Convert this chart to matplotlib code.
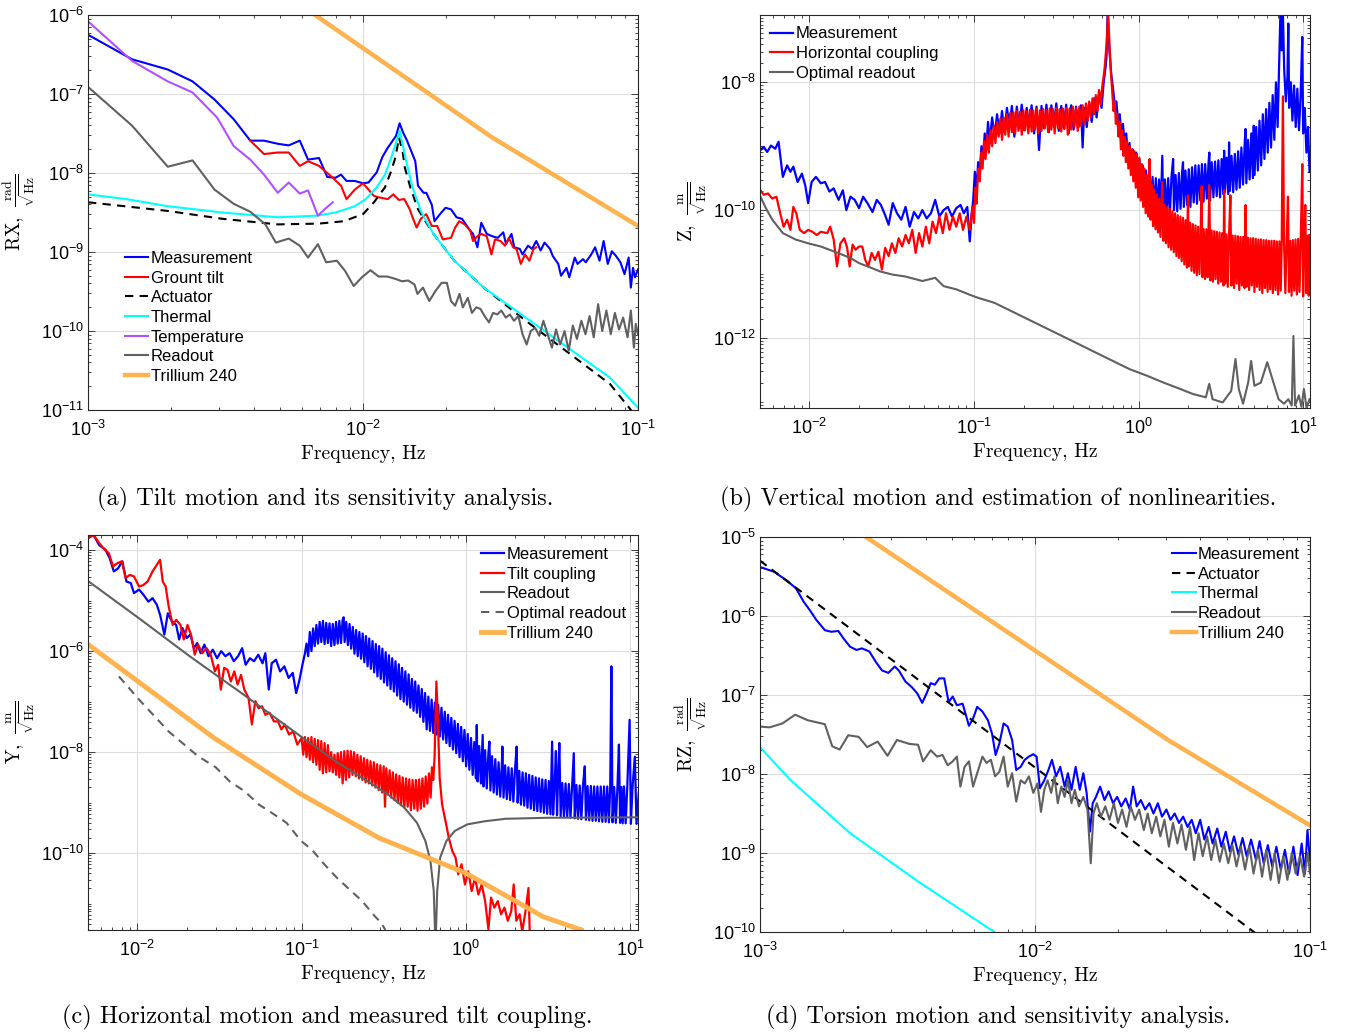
import numpy as np
import matplotlib
matplotlib.use('Agg')
import matplotlib.pyplot as plt
from matplotlib.ticker import LogLocator, FuncFormatter, NullFormatter

plt.rcParams['font.family'] = 'Liberation Sans'
plt.rcParams['mathtext.fontset'] = 'custom'
plt.rcParams['mathtext.rm'] = 'cmr10'
plt.rcParams['mathtext.sf'] = 'Liberation Sans'

BLUE = '#0000ff'
RED = '#ff0000'
GRAY = '#606060'
CYAN = '#00ffff'
PURPLE = '#b050ff'
ORANGE = '#ffb24d'

# all points are (log10 frequency [Hz], log10 amplitude)

# (a) tilt RX
rx_meas = [(-3.00, -6.25), (-2.84, -6.56), (-2.71, -6.69), (-2.62, -6.84), (-2.54, -7.07), (-2.47, -7.32),
           (-2.41, -7.59), (-2.36, -7.59), (-2.31, -7.63), (-2.27, -7.65), (-2.23, -7.59), (-2.20, -7.83),
           (-2.16, -7.81), (-2.13, -8.05), (-2.10, -8.06), (-2.08, -8.02), (-2.06, -8.10), (-2.03, -8.10),
           (-2.00, -8.13), (-1.98, -8.12), (-1.95, -7.99), (-1.93, -7.80), (-1.91, -7.68), (-1.88, -7.53),
           (-1.867, -7.37), (-1.854, -7.49), (-1.84, -7.59), (-1.81, -7.85), (-1.80, -8.16), (-1.78, -8.25),
           (-1.77, -8.25), (-1.75, -8.40), (-1.74, -8.61), (-1.72, -8.52), (-1.70, -8.44), (-1.68, -8.46),
           (-1.66, -8.56), (-1.64, -8.58), (-1.61, -8.73), (-1.60, -8.77), (-1.584, -8.94), (-1.57, -8.63),
           (-1.55, -8.77), (-1.53, -8.80), (-1.51, -8.82), (-1.49, -8.75), (-1.48, -8.90), (-1.46, -8.77),
           (-1.45, -8.94), (-1.43, -8.96), (-1.42, -9.03), (-1.40, -8.92), (-1.385, -8.96), (-1.37, -8.86),
           (-1.354, -8.98), (-1.34, -8.88), (-1.32, -8.96), (-1.31, -9.05), (-1.29, -9.15), (-1.28, -9.30),
           (-1.26, -9.20), (-1.25, -9.32), (-1.23, -9.07), (-1.22, -9.15), (-1.20, -9.09), (-1.19, -9.13),
           (-1.17, -9.03), (-1.156, -8.94), (-1.14, -9.11), (-1.125, -8.86), (-1.11, -9.15), (-1.095, -8.99),
           (-1.08, -9.05), (-1.064, -9.13), (-1.049, -9.28), (-1.034, -9.07), (-1.026, -9.45), (-1.018, -9.20),
           (-1.011, -9.32), (-1.00, -9.22)]
rx_ground = [(-2.41, -7.59), (-2.36, -7.76), (-2.31, -7.74), (-2.27, -7.74), (-2.23, -7.91), (-2.20, -7.85),
             (-2.16, -7.91), (-2.11, -8.06), (-2.08, -8.16), (-2.06, -8.33), (-2.03, -8.21), (-2.00, -8.13),
             (-1.98, -8.21), (-1.96, -8.29), (-1.94, -8.31), (-1.91, -8.33), (-1.89, -8.27), (-1.87, -8.34),
             (-1.85, -8.33), (-1.83, -8.46), (-1.82, -8.56), (-1.805, -8.69), (-1.79, -8.58), (-1.77, -8.52),
             (-1.75, -8.67), (-1.73, -8.67), (-1.71, -8.84), (-1.68, -8.82), (-1.665, -8.69), (-1.65, -8.61),
             (-1.63, -8.65), (-1.61, -8.73), (-1.60, -8.86), (-1.584, -8.80), (-1.57, -8.77), (-1.55, -8.80),
             (-1.533, -9.03), (-1.52, -8.84), (-1.50, -8.86), (-1.484, -8.92), (-1.47, -8.82), (-1.454, -8.94),
             (-1.442, -8.96), (-1.426, -9.15), (-1.411, -9.03), (-1.395, -9.11), (-1.38, -8.96), (-1.37, -8.94)]
rx_act = [(-3.0, -8.37), (-2.71, -8.48), (-2.51, -8.58), (-2.31, -8.65), (-2.16, -8.64), (-2.07, -8.61),
          (-2.00, -8.52), (-1.96, -8.37), (-1.92, -8.18), (-1.897, -7.97), (-1.882, -7.80), (-1.869, -7.55),
          (-1.855, -7.75), (-1.848, -7.93), (-1.828, -8.18), (-1.80, -8.46), (-1.744, -8.77), (-1.668, -9.11),
          (-1.561, -9.45), (-1.408, -9.87), (-1.255, -10.27), (-1.102, -10.67), (-1.03, -10.98), (-1.00, -11.12)]
rx_therm = [(-3.0, -8.27), (-2.86, -8.33), (-2.71, -8.42), (-2.51, -8.50), (-2.31, -8.56), (-2.17, -8.54),
            (-2.10, -8.50), (-2.03, -8.42), (-1.99, -8.33), (-1.95, -8.18), (-1.92, -8.02), (-1.897, -7.80),
            (-1.882, -7.64), (-1.869, -7.49), (-1.866, -7.47), (-1.856, -7.64), (-1.843, -7.85), (-1.82, -8.18),
            (-1.79, -8.48), (-1.744, -8.77), (-1.668, -9.11), (-1.561, -9.45), (-1.408, -9.83), (-1.255, -10.21),
            (-1.102, -10.59), (-1.00, -10.97)]
rx_temp = [(-3.0, -6.08), (-2.84, -6.58), (-2.71, -6.84), (-2.62, -6.98), (-2.53, -7.30), (-2.47, -7.66),
           (-2.41, -7.83), (-2.36, -8.02), (-2.31, -8.25), (-2.27, -8.12), (-2.23, -8.26), (-2.20, -8.22),
           (-2.164, -8.54), (-2.14, -8.46), (-2.11, -8.37)]
rx_read = [(-3.0, -6.91), (-2.84, -7.40), (-2.71, -7.92), (-2.62, -7.84), (-2.54, -8.21), (-2.47, -8.39),
           (-2.41, -8.49), (-2.355, -8.65), (-2.317, -8.88), (-2.27, -8.83), (-2.23, -8.92), (-2.20, -9.07),
           (-2.164, -8.90), (-2.134, -9.13), (-2.095, -9.11), (-2.065, -9.24), (-2.034, -9.43), (-2.004, -9.32),
           (-1.973, -9.23), (-1.943, -9.31), (-1.912, -9.31), (-1.882, -9.34), (-1.859, -9.37), (-1.836, -9.36),
           (-1.813, -9.41), (-1.802, -9.53), (-1.782, -9.45), (-1.759, -9.62), (-1.736, -9.49), (-1.714, -9.39),
           (-1.695, -9.39), (-1.680, -9.62), (-1.665, -9.68), (-1.649, -9.53), (-1.637, -9.70), (-1.619, -9.58),
           (-1.604, -9.77), (-1.588, -9.70), (-1.573, -9.72), (-1.558, -9.81), (-1.542, -9.89), (-1.527, -9.77),
           (-1.512, -9.79), (-1.497, -9.74), (-1.481, -9.83), (-1.466, -9.79), (-1.451, -9.87), (-1.435, -9.81),
           (-1.420, -10.04), (-1.405, -10.17), (-1.390, -10.00), (-1.374, -9.96), (-1.359, -10.06), (-1.344, -9.87),
           (-1.329, -10.04), (-1.313, -10.21), (-1.298, -9.98), (-1.283, -10.17), (-1.267, -10.00), (-1.252, -10.25),
           (-1.237, -9.93), (-1.222, -10.10), (-1.206, -9.87), (-1.191, -10.04), (-1.176, -9.81), (-1.161, -10.08),
           (-1.145, -9.66), (-1.130, -10.00), (-1.115, -9.74), (-1.099, -10.04), (-1.084, -9.77), (-1.069, -9.98),
           (-1.054, -9.83), (-1.038, -10.08), (-1.026, -9.74), (-1.015, -10.21), (-1.008, -9.91), (-1.000, -10.04)]
rx_trill = [(-2.22, -5.89), (-1.53, -7.55), (-1.00, -8.67)]

# (b) vertical Z
z_meas = [(-2.298, -9.06), (-2.278, -9.01), (-2.257, -9.09), (-2.234, -8.99), (-2.208, -9.04), (-2.188, -8.93),
          (-2.162, -9.48), (-2.136, -9.30), (-2.116, -9.40), (-2.098, -9.32), (-2.072, -9.56), (-2.046, -9.43),
          (-2.026, -9.61), (-2.008, -9.89), (-1.987, -9.56), (-1.961, -9.48), (-1.931, -9.58), (-1.905, -9.56),
          (-1.879, -9.71), (-1.853, -9.66), (-1.823, -9.84), (-1.797, -9.69), (-1.776, -10.00), (-1.751, -9.79),
          (-1.725, -9.84), (-1.699, -9.97), (-1.674, -9.79), (-1.648, -9.89), (-1.617, -10.03), (-1.591, -9.84),
          (-1.566, -9.92), (-1.540, -10.08), (-1.519, -10.23), (-1.494, -9.89), (-1.468, -10.05), (-1.442, -10.15),
          (-1.416, -9.95), (-1.391, -10.26), (-1.365, -10.03), (-1.339, -10.13), (-1.314, -10.00), (-1.288, -10.13),
          (-1.262, -10.05), (-1.236, -9.84), (-1.211, -10.10), (-1.185, -10.00), (-1.159, -9.95), (-1.134, -10.10),
          (-1.108, -9.97), (-1.082, -9.92), (-1.062, -10.05), (-1.041, -9.95), (-1.026, -10.49), (-1.015, -10.10),
          (-1.005, -9.84), (-0.995, -9.40), (-0.985, -9.70), (-0.975, -9.25), (-0.965, -9.45), (-0.955, -9.00),
          (-0.945, -9.20), (-0.935, -8.80), (-0.925, -9.05), (-0.915, -8.62), (-0.905, -8.95), (-0.890, -8.55),
          (-0.875, -8.85), (-0.860, -8.50), (-0.845, -8.80), (-0.830, -8.45), (-0.815, -8.78), (-0.800, -8.40),
          (-0.785, -8.70), (-0.770, -8.37), (-0.755, -8.85), (-0.740, -8.38), (-0.725, -8.72), (-0.710, -8.35),
          (-0.695, -8.75), (-0.680, -8.40), (-0.665, -8.70), (-0.650, -8.36), (-0.635, -8.80), (-0.620, -8.38),
          (-0.605, -9.06), (-0.590, -8.37), (-0.575, -8.72), (-0.560, -8.35), (-0.545, -8.78), (-0.530, -8.36),
          (-0.515, -8.70), (-0.500, -8.33), (-0.485, -8.76), (-0.470, -8.37), (-0.455, -8.72), (-0.440, -8.35),
          (-0.425, -8.80), (-0.410, -8.36), (-0.395, -8.74), (-0.380, -8.38), (-0.365, -8.70), (-0.350, -8.36),
          (-0.340, -9.02), (-0.330, -8.40), (-0.315, -8.70), (-0.300, -8.32), (-0.285, -8.62), (-0.270, -8.25),
          (-0.255, -8.55), (-0.240, -8.15), (-0.225, -8.40), (-0.212, -8.00), (-0.200, -7.75), (-0.195, -7.61),
          (-0.188, -6.90), (-0.177, -7.51), (-0.165, -7.90), (-0.155, -8.10), (-0.145, -8.35), (-0.135, -8.30),
          (-0.125, -8.60), (-0.115, -8.50), (-0.105, -8.80), (-0.095, -8.65), (-0.085, -8.95), (-0.075, -8.80),
          (-0.065, -9.15), (-0.055, -8.95), (-0.045, -9.30), (-0.035, -9.05), (-0.025, -9.40), (-0.015, -9.10),
          (-0.005, -9.55), (0.005, -9.20), (0.015, -9.70), (0.025, -9.30), (0.035, -9.75), (0.045, -9.38),
          (0.055, -9.85), (0.065, -9.42), (0.075, -9.92), (0.085, -9.48), (0.095, -9.98), (0.105, -9.50),
          (0.115, -10.02), (0.125, -9.52), (0.135, -10.05), (0.144, -9.15), (0.150, -10.08), (0.160, -9.52),
          (0.170, -10.05), (0.180, -9.50), (0.190, -10.08), (0.200, -9.48), (0.210, -9.20), (0.215, -10.00),
          (0.225, -9.45), (0.235, -10.02), (0.245, -9.42), (0.255, -9.98), (0.265, -9.40), (0.270, -9.25),
          (0.275, -9.95), (0.285, -9.38), (0.295, -9.92), (0.305, -9.36), (0.315, -9.95), (0.325, -9.33),
          (0.335, -9.88), (0.345, -9.30), (0.355, -9.90), (0.365, -9.30), (0.375, -9.85), (0.385, -9.28),
          (0.395, -9.87), (0.405, -9.28), (0.415, -9.82), (0.425, -9.27), (0.430, -9.10), (0.435, -9.85),
          (0.445, -9.25), (0.455, -9.80), (0.465, -9.24), (0.475, -9.78), (0.485, -9.22), (0.495, -9.80),
          (0.505, -9.20), (0.515, -9.75), (0.520, -9.07), (0.525, -9.72), (0.535, -9.18), (0.545, -9.75),
          (0.550, -8.94), (0.555, -9.70), (0.565, -9.15), (0.575, -9.72), (0.585, -9.12), (0.595, -9.68),
          (0.605, -9.08), (0.615, -9.65), (0.625, -9.02), (0.635, -9.60), (0.645, -8.95), (0.650, -8.73),
          (0.655, -9.58), (0.665, -8.90), (0.675, -9.52), (0.685, -8.80), (0.695, -9.50), (0.700, -8.68),
          (0.705, -9.45), (0.715, -8.70), (0.725, -9.38), (0.735, -8.60), (0.745, -9.30), (0.755, -8.50),
          (0.765, -9.20), (0.775, -8.42), (0.785, -9.10), (0.795, -8.32), (0.805, -9.02), (0.815, -8.20),
          (0.825, -8.90), (0.835, -8.00), (0.845, -8.70), (0.855, -7.60), (0.862, -6.90), (0.870, -7.50),
          (0.877, -6.90), (0.885, -7.80), (0.895, -8.30), (0.905, -7.90), (0.910, -7.08), (0.915, -8.40),
          (0.925, -8.00), (0.935, -8.60), (0.945, -8.05), (0.955, -8.70), (0.965, -8.10), (0.975, -8.75),
          (0.985, -8.20), (0.995, -7.29), (1.000, -8.80), (1.010, -8.40), (1.020, -9.10), (1.030, -8.70),
          (1.039, -9.40)]
z_horiz = [(-2.298, -9.69), (-2.278, -9.76), (-2.252, -9.74), (-2.226, -9.82), (-2.201, -9.79), (-2.175, -10.08),
           (-2.157, -10.26), (-2.136, -10.15), (-2.116, -10.31), (-2.098, -9.95), (-2.080, -10.05), (-2.059, -10.31),
           (-2.033, -10.36), (-2.008, -10.31), (-1.982, -10.34), (-1.956, -10.39), (-1.931, -10.34), (-1.892, -10.36),
           (-1.874, -10.26), (-1.853, -10.46), (-1.833, -10.88), (-1.812, -10.52), (-1.789, -10.44), (-1.771, -10.59),
           (-1.756, -10.88), (-1.738, -10.54), (-1.720, -10.62), (-1.699, -10.57), (-1.679, -10.57), (-1.661, -10.78),
           (-1.643, -10.88), (-1.622, -10.67), (-1.602, -10.78), (-1.581, -10.65), (-1.560, -10.93), (-1.540, -10.59),
           (-1.519, -10.72), (-1.499, -10.52), (-1.478, -10.67), (-1.458, -10.44), (-1.437, -10.57), (-1.416, -10.39),
           (-1.396, -10.52), (-1.375, -10.31), (-1.355, -10.67), (-1.334, -10.36), (-1.314, -10.57), (-1.293, -10.26),
           (-1.272, -10.52), (-1.252, -10.18), (-1.231, -10.36), (-1.211, -10.10), (-1.190, -10.36), (-1.170, -10.05),
           (-1.149, -10.31), (-1.128, -10.10), (-1.108, -10.26), (-1.087, -10.05), (-1.067, -10.31), (-1.046, -10.10),
           (-1.026, -10.31), (-1.010, -9.95), (-1.000, -10.20), (-0.992, -9.65), (-0.984, -9.90), (-0.975, -9.35),
           (-0.966, -9.55), (-0.957, -9.10), (-0.948, -9.35), (-0.939, -8.92), (-0.930, -9.20), (-0.920, -8.82),
           (-0.910, -9.10), (-0.900, -8.75), (-0.890, -9.00), (-0.880, -8.68), (-0.870, -8.95), (-0.860, -8.62),
           (-0.850, -8.85), (-0.840, -8.57), (-0.830, -8.90), (-0.820, -8.55), (-0.810, -8.82), (-0.800, -8.50),
           (-0.790, -8.85), (-0.780, -8.48), (-0.770, -8.78), (-0.760, -8.47), (-0.750, -8.80), (-0.740, -8.45),
           (-0.730, -8.76), (-0.720, -8.46), (-0.710, -8.82), (-0.700, -8.44), (-0.690, -8.75), (-0.680, -8.45),
           (-0.670, -8.80), (-0.660, -8.43), (-0.650, -8.77), (-0.640, -8.44), (-0.630, -8.74), (-0.620, -8.42),
           (-0.610, -8.80), (-0.600, -8.44), (-0.590, -8.76), (-0.580, -8.42), (-0.570, -8.72), (-0.560, -8.43),
           (-0.550, -8.78), (-0.540, -8.41), (-0.530, -8.74), (-0.520, -8.42), (-0.510, -8.80), (-0.500, -8.40),
           (-0.490, -8.72), (-0.480, -8.42), (-0.470, -8.77), (-0.460, -8.41), (-0.450, -8.73), (-0.440, -8.40),
           (-0.430, -8.82), (-0.420, -8.41), (-0.410, -8.74), (-0.400, -8.38), (-0.390, -8.70), (-0.380, -8.40),
           (-0.370, -8.76), (-0.360, -8.38), (-0.350, -8.68), (-0.340, -8.36), (-0.330, -8.65), (-0.320, -8.33),
           (-0.310, -8.60), (-0.300, -8.30), (-0.290, -8.55), (-0.280, -8.25), (-0.270, -8.50), (-0.260, -8.20),
           (-0.250, -8.45), (-0.240, -8.12), (-0.230, -8.35), (-0.220, -8.05), (-0.212, -7.90), (-0.206, -7.77),
           (-0.193, -7.35), (-0.185, -6.90), (-0.177, -7.40), (-0.168, -7.85), (-0.160, -8.15), (-0.152, -8.45),
           (-0.145, -8.30), (-0.138, -8.65), (-0.130, -8.50), (-0.122, -8.85), (-0.115, -8.62), (-0.107, -9.05),
           (-0.100, -8.75), (-0.092, -9.15), (-0.085, -8.85), (-0.077, -9.25), (-0.070, -8.92), (-0.062, -9.35),
           (-0.055, -9.00), (-0.047, -9.45), (-0.040, -9.05), (-0.032, -9.55), (-0.025, -9.08), (-0.017, -9.65),
           (-0.010, -9.12), (-0.002, -9.80), (0.005, -9.18), (0.013, -9.85), (0.020, -9.28), (0.028, -9.95),
           (0.035, -9.35), (0.043, -10.05), (0.050, -9.45), (0.058, -10.10), (0.065, -9.50), (0.067, -9.20),
           (0.073, -10.15), (0.080, -9.60), (0.088, -10.25), (0.095, -9.68), (0.103, -10.30), (0.110, -9.75),
           (0.118, -10.35), (0.125, -9.82), (0.133, -10.42), (0.140, -9.88), (0.144, -9.56), (0.150, -10.48),
           (0.158, -9.92), (0.166, -10.52), (0.174, -9.95), (0.182, -10.58), (0.190, -9.98), (0.198, -10.62),
           (0.206, -10.02), (0.214, -10.66), (0.222, -10.05), (0.230, -10.72), (0.238, -10.08), (0.246, -10.75),
           (0.254, -10.10), (0.262, -10.80), (0.270, -10.12), (0.278, -10.85), (0.286, -10.16), (0.294, -10.90),
           (0.300, -9.77), (0.306, -10.88), (0.314, -10.20), (0.322, -10.95), (0.330, -10.22), (0.338, -10.98),
           (0.346, -10.24), (0.354, -11.02), (0.362, -10.26), (0.370, -11.00), (0.378, -10.28), (0.383, -9.63),
           (0.388, -11.05), (0.396, -10.30), (0.404, -11.08), (0.412, -10.30), (0.420, -11.05), (0.430, -9.61),
           (0.436, -11.10), (0.444, -10.32), (0.452, -11.12), (0.460, -10.33), (0.468, -11.08), (0.476, -10.34),
           (0.484, -11.15), (0.492, -10.35), (0.500, -11.12), (0.508, -10.36), (0.516, -11.18), (0.520, -9.69),
           (0.526, -11.15), (0.534, -10.38), (0.542, -11.20), (0.550, -10.38), (0.558, -9.77), (0.564, -11.18),
           (0.572, -10.40), (0.580, -11.22), (0.588, -10.40), (0.596, -11.15), (0.604, -10.41), (0.612, -11.25),
           (0.620, -10.42), (0.628, -11.18), (0.636, -10.42), (0.644, -11.22), (0.650, -9.92), (0.656, -11.20),
           (0.664, -10.43), (0.672, -11.25), (0.680, -10.44), (0.688, -11.18), (0.696, -10.44), (0.704, -11.28),
           (0.712, -10.45), (0.720, -11.20), (0.728, -10.46), (0.736, -11.25), (0.744, -10.46), (0.752, -11.30),
           (0.760, -10.47), (0.768, -11.22), (0.776, -10.47), (0.784, -11.28), (0.792, -10.48), (0.800, -11.24),
           (0.808, -10.48), (0.816, -11.30), (0.824, -10.48), (0.832, -11.25), (0.840, -10.49), (0.848, -11.32),
           (0.856, -10.49), (0.864, -11.26), (0.870, -10.50), (0.877, -8.22), (0.884, -10.50), (0.892, -11.30),
           (0.900, -10.49), (0.908, -9.79), (0.914, -11.28), (0.922, -10.48), (0.930, -11.34), (0.938, -10.47),
           (0.946, -11.26), (0.954, -10.46), (0.962, -11.32), (0.970, -10.45), (0.978, -11.28), (0.986, -10.43),
           (0.995, -9.28), (1.000, -11.35), (1.008, -10.41), (1.013, -9.92), (1.020, -11.30), (1.028, -10.40),
           (1.034, -11.34), (1.039, -10.39)]
z_read = [(-2.298, -9.79), (-2.265, -9.97), (-2.226, -10.15), (-2.162, -10.36), (-2.085, -10.46), (-2.008, -10.52),
          (-1.931, -10.57), (-1.828, -10.67), (-1.751, -10.75), (-1.699, -10.83), (-1.648, -10.88), (-1.571, -10.96),
          (-1.494, -11.01), (-1.416, -11.04), (-1.314, -11.11), (-1.236, -11.06), (-1.185, -11.19), (-1.108, -11.24),
          (-1.031, -11.32), (-0.979, -11.37), (-0.877, -11.45), (-0.774, -11.58), (-0.671, -11.71), (-0.568, -11.84),
          (-0.465, -11.97), (-0.362, -12.10), (-0.260, -12.23), (-0.157, -12.36), (-0.054, -12.49), (0.049, -12.59),
          (0.152, -12.70), (0.254, -12.80), (0.332, -12.88), (0.409, -12.93), (0.429, -12.72), (0.450, -12.96),
          (0.511, -13.01), (0.563, -12.83), (0.589, -12.33), (0.609, -12.80), (0.635, -13.03), (0.666, -12.70),
          (0.684, -12.36), (0.704, -12.75), (0.743, -12.70), (0.782, -12.38), (0.820, -12.70), (0.851, -12.96),
          (0.884, -13.03), (0.910, -12.96), (0.931, -13.06), (0.941, -11.97), (0.951, -13.06), (0.974, -12.90),
          (0.990, -13.08), (1.005, -12.80), (1.021, -13.10), (1.039, -12.96)]

# (c) horizontal Y
y_meas = [(-2.297, -3.73), (-2.267, -3.70), (-2.233, -3.90), (-2.195, -3.99), (-2.169, -4.16), (-2.144, -4.42),
          (-2.118, -4.36), (-2.092, -4.22), (-2.067, -4.62), (-2.041, -4.65), (-2.021, -4.85), (-1.990, -4.78),
          (-1.964, -4.88), (-1.933, -5.02), (-1.908, -4.95), (-1.882, -5.08), (-1.862, -5.28), (-1.836, -5.67),
          (-1.815, -5.25), (-1.790, -5.41), (-1.764, -5.48), (-1.746, -5.77), (-1.726, -5.54), (-1.700, -5.74),
          (-1.677, -5.67), (-1.656, -5.94), (-1.636, -5.84), (-1.615, -6.04), (-1.592, -5.87), (-1.567, -6.10),
          (-1.541, -5.97), (-1.515, -6.14), (-1.490, -6.00), (-1.464, -6.10), (-1.438, -6.04), (-1.413, -6.20),
          (-1.387, -6.10), (-1.362, -5.94), (-1.341, -6.27), (-1.315, -6.14), (-1.290, -6.20), (-1.264, -6.07),
          (-1.238, -6.24), (-1.221, -6.04), (-1.200, -6.76), (-1.182, -6.24), (-1.156, -6.17), (-1.131, -6.40),
          (-1.105, -6.30), (-1.079, -6.53), (-1.054, -6.43), (-1.033, -6.83), (-1.015, -6.60), (-0.995, -6.27),
          (-0.980, -6.05), (-0.970, -5.85), (-0.960, -6.10), (-0.950, -5.62), (-0.940, -6.00), (-0.930, -5.55),
          (-0.920, -5.90), (-0.910, -5.48), (-0.900, -5.85), (-0.890, -5.42), (-0.880, -5.82), (-0.870, -5.40),
          (-0.860, -5.86), (-0.850, -5.44), (-0.840, -5.84), (-0.830, -5.45), (-0.820, -5.90), (-0.810, -5.46),
          (-0.800, -5.88), (-0.790, -5.42), (-0.780, -5.85), (-0.770, -5.40), (-0.760, -5.84), (-0.750, -5.38),
          (-0.744, -5.33), (-0.738, -5.82), (-0.728, -5.42), (-0.718, -5.88), (-0.708, -5.46), (-0.698, -5.95),
          (-0.688, -5.52), (-0.678, -6.05), (-0.668, -5.58), (-0.658, -6.10), (-0.648, -5.62), (-0.638, -6.15),
          (-0.628, -5.65), (-0.618, -6.22), (-0.608, -5.70), (-0.598, -6.30), (-0.588, -5.75), (-0.578, -6.35),
          (-0.568, -5.80), (-0.558, -6.42), (-0.548, -5.86), (-0.538, -6.50), (-0.528, -5.90), (-0.518, -6.55),
          (-0.508, -5.95), (-0.498, -6.62), (-0.488, -6.02), (-0.478, -6.68), (-0.468, -6.08), (-0.458, -6.75),
          (-0.448, -6.14), (-0.438, -6.80), (-0.428, -6.20), (-0.418, -6.88), (-0.408, -6.26), (-0.398, -6.95),
          (-0.388, -6.33), (-0.378, -7.00), (-0.368, -6.40), (-0.358, -7.06), (-0.348, -6.46), (-0.338, -7.12),
          (-0.328, -6.55), (-0.318, -7.18), (-0.308, -6.60), (-0.298, -7.22), (-0.288, -6.68), (-0.278, -7.30),
          (-0.268, -6.75), (-0.258, -7.40), (-0.248, -6.83), (-0.238, -7.55), (-0.228, -6.90), (-0.218, -7.58),
          (-0.208, -6.96), (-0.198, -7.62), (-0.188, -7.02), (-0.178, -7.65), (-0.168, -7.06), (-0.158, -7.69),
          (-0.148, -7.12), (-0.138, -7.75), (-0.128, -7.20), (-0.118, -7.82), (-0.108, -7.26), (-0.098, -7.88),
          (-0.088, -7.32), (-0.078, -7.95), (-0.068, -7.38), (-0.058, -8.02), (-0.048, -7.44), (-0.038, -8.10),
          (-0.028, -7.50), (-0.018, -8.18), (-0.008, -7.56), (0.002, -8.28), (0.012, -7.64), (0.022, -8.35),
          (0.032, -7.72), (0.042, -8.45), (0.052, -7.80), (0.062, -8.52), (0.067, -7.46), (0.072, -8.58),
          (0.082, -7.88), (0.092, -8.62), (0.103, -7.66), (0.108, -8.68), (0.118, -7.96), (0.128, -8.72),
          (0.138, -8.02), (0.144, -7.79), (0.150, -8.76), (0.160, -8.08), (0.170, -8.80), (0.180, -8.14),
          (0.190, -8.84), (0.200, -8.20), (0.210, -8.88), (0.220, -8.24), (0.223, -7.89), (0.230, -8.90),
          (0.240, -8.26), (0.250, -8.93), (0.260, -8.30), (0.270, -8.95), (0.280, -8.32), (0.290, -8.98),
          (0.300, -8.34), (0.310, -7.89), (0.316, -9.00), (0.326, -8.37), (0.336, -9.04), (0.346, -8.40),
          (0.356, -9.06), (0.366, -8.42), (0.376, -9.10), (0.386, -8.45), (0.396, -9.12), (0.406, -8.47),
          (0.416, -9.15), (0.426, -8.50), (0.436, -9.17), (0.446, -8.52), (0.456, -9.18), (0.466, -8.54),
          (0.476, -9.20), (0.486, -8.55), (0.496, -9.22), (0.506, -8.57), (0.516, -9.23), (0.526, -7.79),
          (0.532, -9.24), (0.542, -8.59), (0.549, -7.98), (0.556, -9.25), (0.562, -8.60), (0.570, -7.82),
          (0.578, -9.27), (0.588, -8.61), (0.598, -9.28), (0.608, -8.62), (0.618, -9.29), (0.628, -8.63),
          (0.638, -9.30), (0.648, -8.64), (0.658, -8.02), (0.664, -9.31), (0.674, -8.65), (0.684, -9.32),
          (0.694, -8.66), (0.704, -9.33), (0.714, -8.66), (0.725, -8.28), (0.732, -9.34), (0.742, -8.67),
          (0.752, -9.35), (0.762, -8.67), (0.772, -9.36), (0.782, -8.68), (0.792, -9.36), (0.802, -8.68),
          (0.812, -9.37), (0.822, -8.68), (0.832, -9.38), (0.842, -8.68), (0.852, -9.38), (0.862, -8.68),
          (0.872, -9.39), (0.880, -8.69), (0.887, -6.30), (0.894, -9.39), (0.904, -8.69), (0.914, -9.40),
          (0.924, -8.69), (0.933, -7.85), (0.940, -9.40), (0.948, -8.69), (0.956, -9.41), (0.964, -8.68),
          (0.974, -9.41), (0.984, -8.68), (0.998, -7.36), (1.006, -9.42), (1.016, -8.68), (1.030, -8.09),
          (1.040, -9.42), (1.054, -8.80)]
y_tilt = [(-2.297, -3.76), (-2.267, -3.70), (-2.233, -3.86), (-2.200, -3.99), (-2.174, -4.06), (-2.149, -4.32),
          (-2.123, -4.26), (-2.095, -4.22), (-2.072, -4.55), (-2.046, -4.49), (-2.021, -4.52), (-1.990, -4.72),
          (-1.964, -4.69), (-1.938, -4.62), (-1.908, -4.42), (-1.882, -4.29), (-1.862, -4.19), (-1.846, -4.62),
          (-1.828, -4.72), (-1.810, -5.11), (-1.785, -5.48), (-1.764, -5.38), (-1.738, -5.48), (-1.718, -5.77),
          (-1.695, -5.48), (-1.674, -5.67), (-1.651, -6.07), (-1.631, -5.87), (-1.605, -6.04), (-1.579, -5.94),
          (-1.554, -6.07), (-1.528, -6.40), (-1.508, -6.27), (-1.492, -6.76), (-1.472, -6.33), (-1.451, -6.37),
          (-1.431, -6.60), (-1.410, -6.40), (-1.390, -6.66), (-1.369, -6.47), (-1.349, -6.76), (-1.323, -6.93),
          (-1.303, -7.45), (-1.282, -6.99), (-1.262, -7.13), (-1.241, -7.09), (-1.221, -7.26), (-1.195, -7.22),
          (-1.169, -7.39), (-1.144, -7.39), (-1.123, -7.55), (-1.103, -7.45), (-1.077, -7.65), (-1.051, -7.59),
          (-1.026, -7.85), (-1.000, -7.72), (-0.990, -8.05), (-0.980, -7.70), (-0.970, -8.10), (-0.960, -7.72),
          (-0.950, -8.15), (-0.940, -7.70), (-0.930, -8.20), (-0.920, -7.74), (-0.910, -8.25), (-0.900, -7.76),
          (-0.890, -8.35), (-0.880, -7.78), (-0.870, -8.42), (-0.860, -7.82), (-0.850, -8.40), (-0.840, -7.86),
          (-0.830, -8.38), (-0.820, -8.00), (-0.810, -8.40), (-0.800, -8.05), (-0.790, -8.45), (-0.780, -8.02),
          (-0.770, -8.50), (-0.760, -8.00), (-0.750, -8.62), (-0.740, -7.98), (-0.730, -8.55), (-0.720, -7.97),
          (-0.710, -8.50), (-0.700, -7.98), (-0.690, -8.45), (-0.680, -8.00), (-0.670, -8.48), (-0.660, -8.05),
          (-0.650, -8.52), (-0.640, -8.08), (-0.630, -8.55), (-0.620, -8.12), (-0.610, -8.60), (-0.600, -8.15),
          (-0.590, -8.62), (-0.580, -8.18), (-0.570, -8.66), (-0.560, -8.20), (-0.550, -8.70), (-0.540, -8.24),
          (-0.530, -8.75), (-0.520, -8.26), (-0.510, -8.80), (-0.500, -8.28), (-0.492, -9.08), (-0.484, -8.32),
          (-0.474, -8.84), (-0.464, -8.36), (-0.454, -8.90), (-0.444, -8.40), (-0.434, -8.95), (-0.424, -8.44),
          (-0.414, -9.00), (-0.404, -8.47), (-0.394, -9.05), (-0.384, -8.50), (-0.374, -9.10), (-0.364, -8.52),
          (-0.354, -9.08), (-0.344, -8.54), (-0.334, -9.15), (-0.324, -8.55), (-0.314, -9.12), (-0.304, -8.55),
          (-0.294, -9.16), (-0.284, -8.54), (-0.274, -9.12), (-0.264, -8.52), (-0.254, -9.08), (-0.244, -8.48),
          (-0.234, -9.02), (-0.224, -8.42), (-0.214, -8.90), (-0.206, -8.30), (-0.198, -8.55), (-0.190, -8.10),
          (-0.179, -6.60), (-0.169, -7.45), (-0.159, -8.51), (-0.144, -9.04), (-0.123, -9.37), (-0.103, -9.70),
          (-0.082, -9.96), (-0.062, -10.09), (-0.046, -10.42), (-0.026, -10.22), (-0.005, -10.62), (0.015, -10.36),
          (0.036, -10.75), (0.056, -10.49), (0.077, -10.82), (0.097, -10.62), (0.118, -10.95), (0.138, -11.51),
          (0.154, -10.88), (0.174, -11.08), (0.195, -10.95), (0.215, -11.21), (0.236, -11.08), (0.256, -11.34),
          (0.277, -11.15), (0.292, -10.62), (0.308, -11.34), (0.328, -11.21), (0.344, -11.55), (0.364, -11.15),
          (0.382, -10.69), (0.390, -11.60), (0.410, -11.80)]
y_read = [(-2.297, -4.62), (-1.990, -5.35), (-1.682, -6.10), (-1.349, -6.87), (-1.000, -7.70), (-0.785, -8.20),
          (-0.605, -8.56), (-0.477, -8.83), (-0.374, -9.10), (-0.297, -9.40), (-0.246, -9.76), (-0.215, -10.16),
          (-0.195, -10.75), (-0.187, -11.60), (-0.185, -13.00), (-0.182, -11.60), (-0.174, -10.75), (-0.156, -10.09),
          (-0.118, -9.76), (-0.067, -9.56), (0.010, -9.43), (0.113, -9.37), (0.241, -9.32), (0.497, -9.30),
          (1.054, -9.29)]
y_opt = [(-2.113, -6.50), (-1.990, -6.96), (-1.810, -7.59), (-1.631, -8.08), (-1.523, -8.30), (-1.438, -8.58),
         (-1.349, -8.77), (-1.259, -9.04), (-1.169, -9.23), (-1.092, -9.40), (-1.003, -9.76), (-0.938, -9.93),
         (-0.862, -10.22), (-0.785, -10.49), (-0.708, -10.72), (-0.631, -10.95), (-0.554, -11.25), (-0.515, -11.38),
         (-0.490, -11.52)]
y_trill = [(-2.303, -5.86), (-1.533, -7.72), (-1.000, -8.84), (-0.528, -9.70), (-0.003, -10.39), (0.472, -11.26),
           (0.703, -11.52)]

# (d) torsion RZ
rz_meas = [(-3.0, -5.38), (-2.949, -5.44), (-2.903, -5.55), (-2.869, -5.65), (-2.841, -5.82), (-2.818, -5.93),
           (-2.795, -6.05), (-2.764, -6.18), (-2.741, -6.20), (-2.715, -6.19), (-2.695, -6.29), (-2.672, -6.39),
           (-2.649, -6.43), (-2.629, -6.41), (-2.602, -6.45), (-2.579, -6.58), (-2.556, -6.69), (-2.533, -6.72),
           (-2.510, -6.64), (-2.495, -6.69), (-2.471, -6.83), (-2.448, -6.90), (-2.428, -6.98), (-2.410, -7.10),
           (-2.394, -6.98), (-2.379, -6.85), (-2.364, -6.87), (-2.348, -6.79), (-2.330, -6.79), (-2.314, -7.09),
           (-2.299, -7.02), (-2.284, -7.13), (-2.263, -7.11), (-2.240, -7.39), (-2.225, -7.30), (-2.210, -7.15),
           (-2.191, -7.21), (-2.171, -7.32), (-2.156, -7.49), (-2.143, -7.76), (-2.129, -7.61), (-2.114, -7.36),
           (-2.099, -7.40), (-2.083, -7.57), (-2.068, -7.95), (-2.052, -7.91), (-2.037, -7.82), (-2.022, -7.78),
           (-2.006, -7.75), (-1.994, -7.78), (-1.982, -8.18), (-1.966, -8.08), (-1.951, -7.95), (-1.938, -7.82),
           (-1.923, -8.03), (-1.908, -7.91), (-1.892, -8.16), (-1.880, -7.99), (-1.867, -8.20), (-1.852, -7.91),
           (-1.837, -8.20), (-1.824, -7.99), (-1.812, -8.24), (-1.800, -8.73), (-1.790, -8.37), (-1.778, -8.29),
           (-1.763, -8.16), (-1.747, -8.33), (-1.732, -8.22), (-1.716, -8.37), (-1.701, -8.29), (-1.686, -8.41),
           (-1.670, -8.31), (-1.655, -8.45), (-1.643, -8.16), (-1.630, -8.41), (-1.615, -8.33), (-1.599, -8.45),
           (-1.584, -8.37), (-1.569, -8.50), (-1.553, -8.37), (-1.538, -8.54), (-1.522, -8.45), (-1.507, -8.58),
           (-1.492, -8.50), (-1.476, -8.62), (-1.461, -8.54), (-1.445, -8.67), (-1.430, -8.58), (-1.415, -8.75),
           (-1.399, -8.58), (-1.384, -8.83), (-1.368, -8.67), (-1.354, -8.88), (-1.337, -8.69), (-1.322, -8.92),
           (-1.306, -8.73), (-1.291, -8.98), (-1.276, -8.79), (-1.260, -9.02), (-1.245, -8.81), (-1.230, -9.04),
           (-1.214, -8.83), (-1.196, -9.09), (-1.183, -8.85), (-1.168, -9.13), (-1.153, -8.90), (-1.137, -9.17),
           (-1.122, -8.92), (-1.106, -9.21), (-1.091, -8.96), (-1.076, -9.26), (-1.060, -8.92), (-1.045, -9.28),
           (-1.030, -8.88), (-1.018, -9.26), (-1.009, -8.71), (-1.000, -9.09)]
rz_act = [(-3.0, -5.30), (-1.20, -10.01)]
rz_therm = [(-3.0, -7.66), (-2.888, -8.08), (-2.672, -8.75), (-2.425, -9.36), (-2.148, -10.00)]
rz_read = [(-3.0, -7.40), (-2.965, -7.41), (-2.918, -7.36), (-2.872, -7.25), (-2.826, -7.32), (-2.764, -7.37),
           (-2.737, -7.65), (-2.710, -7.69), (-2.679, -7.51), (-2.641, -7.53), (-2.610, -7.66), (-2.572, -7.59),
           (-2.536, -7.77), (-2.502, -7.57), (-2.456, -7.62), (-2.425, -7.63), (-2.407, -7.84), (-2.379, -7.70),
           (-2.356, -7.78), (-2.336, -7.76), (-2.317, -7.89), (-2.299, -7.84), (-2.284, -7.78), (-2.271, -8.16),
           (-2.256, -7.91), (-2.240, -7.84), (-2.225, -8.16), (-2.210, -7.99), (-2.191, -7.78), (-2.176, -7.86),
           (-2.160, -7.82), (-2.145, -8.03), (-2.129, -7.97), (-2.114, -7.78), (-2.099, -8.16), (-2.083, -7.99),
           (-2.068, -8.35), (-2.052, -8.08), (-2.037, -8.12), (-2.022, -8.03), (-2.006, -8.24), (-1.991, -8.12),
           (-1.978, -8.48), (-1.966, -8.20), (-1.954, -8.08), (-1.941, -8.24), (-1.929, -8.03), (-1.917, -8.37),
           (-1.904, -8.16), (-1.892, -8.29), (-1.880, -8.08), (-1.867, -8.37), (-1.855, -8.20), (-1.840, -8.41),
           (-1.824, -8.29), (-1.809, -8.45), (-1.797, -9.13), (-1.787, -8.50), (-1.775, -8.37), (-1.760, -8.54),
           (-1.744, -8.41), (-1.729, -8.58), (-1.713, -8.37), (-1.698, -8.62), (-1.683, -8.45), (-1.667, -8.67),
           (-1.652, -8.41), (-1.636, -8.58), (-1.621, -8.45), (-1.604, -8.71), (-1.590, -8.50), (-1.575, -8.75),
           (-1.559, -8.54), (-1.544, -8.79), (-1.529, -8.58), (-1.513, -8.92), (-1.498, -8.62), (-1.482, -8.88),
           (-1.467, -8.64), (-1.451, -8.96), (-1.436, -8.67), (-1.421, -9.09), (-1.405, -8.75), (-1.390, -9.04),
           (-1.374, -8.79), (-1.359, -9.09), (-1.344, -8.83), (-1.328, -9.11), (-1.313, -8.88), (-1.297, -9.13),
           (-1.282, -8.90), (-1.267, -9.17), (-1.251, -8.92), (-1.236, -9.21), (-1.220, -8.92), (-1.205, -9.26),
           (-1.189, -8.96), (-1.174, -9.30), (-1.159, -8.96), (-1.143, -9.34), (-1.128, -9.00), (-1.113, -9.38),
           (-1.097, -9.04), (-1.082, -9.34), (-1.066, -9.00), (-1.052, -9.26), (-1.036, -9.04), (-1.021, -9.30),
           (-1.008, -9.00), (-1.000, -9.26)]
rz_trill = [(-2.70, -4.80), (-1.516, -7.57), (-1.00, -8.65)]


def unpack(pts):
    f, a = zip(*pts)
    return 10 ** np.array(f), 10 ** np.array(a)


def tick_label(v, pos):
    return r'$\mathsf{10^{%d}}$' % round(np.log10(v))


def style_axes(ax, xlim, ylim, ybase, ylabel):
    ax.set_xscale('log')
    ax.set_yscale('log')
    ax.set_xlim(xlim)
    ax.set_ylim(ylim)
    ax.xaxis.set_major_locator(LogLocator(base=10, numticks=20))
    ax.yaxis.set_major_locator(LogLocator(base=ybase, numticks=20))
    ax.xaxis.set_minor_locator(LogLocator(base=10, subs=np.arange(1, 10), numticks=40))
    ax.yaxis.set_minor_locator(LogLocator(base=10, subs=np.arange(1, 10), numticks=40))
    ax.xaxis.set_major_formatter(FuncFormatter(tick_label))
    ax.yaxis.set_major_formatter(FuncFormatter(tick_label))
    ax.xaxis.set_minor_formatter(NullFormatter())
    ax.yaxis.set_minor_formatter(NullFormatter())
    ax.tick_params(which='both', direction='in', top=True, right=True, color='#262626', width=0.6)
    ax.tick_params(which='major', length=5, labelsize=13)
    ax.tick_params(which='minor', length=2.5)
    ax.tick_params(axis='x', pad=7)
    ax.tick_params(axis='y', pad=3)
    ax.grid(True, which='major', color='#dcdcdc', lw=0.8)
    ax.set_axisbelow(True)
    for s in ax.spines.values():
        s.set_color('#262626')
        s.set_linewidth(0.8)
    ax.set_xlabel('Frequency, Hz', fontfamily='cmr10', fontsize=14.2, labelpad=4)
    ax.set_ylabel(ylabel, fontsize=14, labelpad=3)


def add_legend(ax, loc, anchor):
    ax.legend(loc=loc, bbox_to_anchor=anchor, frameon=False, prop={'family': 'Liberation Sans', 'size': 12},
              handlelength=1.4, handletextpad=0.15, labelspacing=0.28, borderpad=0, borderaxespad=0)


DASH = (0, (4, 3))

fig = plt.figure(figsize=(13.46, 10.36), dpi=100)

# (a) tilt motion
ax = fig.add_axes([0.0654, 0.6042, 0.4086, 0.3813])
ax.plot(*unpack(rx_meas), color=BLUE, lw=1.5, label='Measurement')
ax.plot(*unpack(rx_ground), color=RED, lw=1.5, label='Grount tilt')
ax.plot(*unpack(rx_act), color='k', lw=1.5, ls=DASH, label='Actuator')
ax.plot(*unpack(rx_therm), color=CYAN, lw=1.5, label='Thermal')
ax.plot(*unpack(rx_temp), color=PURPLE, lw=1.5, label='Temperature')
ax.plot(*unpack(rx_read), color=GRAY, lw=1.5, label='Readout')
ax.plot(*unpack(rx_trill), color=ORANGE, lw=3.2, label='Trillium 240')
style_axes(ax, (1e-3, 1e-1), (1e-11, 1e-6), 10, r'$\mathrm{RX},\ \frac{\mathrm{rad}}{\sqrt{\mathrm{Hz}}}$')
add_legend(ax, 'upper left', (0.067, 0.403))

# (b) vertical motion
ax = fig.add_axes([0.5646, 0.6062, 0.4086, 0.3793])
ax.plot(*unpack(z_meas), color=BLUE, lw=1.6, label='Measurement')
ax.plot(*unpack(z_horiz), color=RED, lw=1.6, label='Horizontal coupling')
ax.plot(*unpack(z_read), color=GRAY, lw=1.5, label='Optimal readout')
style_axes(ax, (5e-3, 11), (8e-14, 1.13e-7), 100, r'$\mathrm{Z},\ \frac{\mathrm{m}}{\sqrt{\mathrm{Hz}}}$')
add_legend(ax, 'upper left', (0.018, 0.971))

# (c) horizontal motion
ax = fig.add_axes([0.0654, 0.1023, 0.4086, 0.3813])
ax.plot(*unpack(y_meas), color=BLUE, lw=1.6, label='Measurement')
ax.plot(*unpack(y_tilt), color=RED, lw=1.6, label='Tilt coupling')
ax.plot(*unpack(y_read), color=GRAY, lw=1.5, label='Readout')
ax.plot(*unpack(y_opt), color=GRAY, lw=1.5, ls=DASH, label='Optimal readout')
ax.plot(*unpack(y_trill), color=ORANGE, lw=3.5, label='Trillium 240')
style_axes(ax, (5e-3, 11.2), (3e-12, 2e-4), 100, r'$\mathrm{Y},\ \frac{\mathrm{m}}{\sqrt{\mathrm{Hz}}}$')
add_legend(ax, 'upper right', (0.978, 0.970))

# (d) torsion motion
ax = fig.add_axes([0.5646, 0.1004, 0.4086, 0.3813])
ax.plot(*unpack(rz_meas), color=BLUE, lw=1.5, label='Measurement')
ax.plot(*unpack(rz_act), color='k', lw=1.5, ls=DASH, label='Actuator')
ax.plot(*unpack(rz_therm), color=CYAN, lw=1.5, label='Thermal')
ax.plot(*unpack(rz_read), color=GRAY, lw=1.5, label='Readout')
ax.plot(*unpack(rz_trill), color=ORANGE, lw=3.2, label='Trillium 240')
style_axes(ax, (1e-3, 1e-1), (1e-10, 1e-5), 10, r'$\mathrm{RZ},\ \frac{\mathrm{rad}}{\sqrt{\mathrm{Hz}}}$')
add_legend(ax, 'upper right', (0.982, 0.975))

# captions
cap = dict(ha='center', va='baseline', fontfamily='cmr10', fontsize=17.5)
fig.text(0.2415, 0.5125, '(a) Tilt motion and its sensitivity analysis.', **cap)
fig.text(0.7415, 0.5125, '(b) Vertical motion and estimation of nonlinearities.', **cap)
fig.text(0.2430, 0.0125, '(c) Horizontal motion and measured tilt coupling.', **cap)
fig.text(0.7415, 0.0125, '(d) Torsion motion and sensitivity analysis.', **cap)

fig.savefig('out.png', dpi=100)
